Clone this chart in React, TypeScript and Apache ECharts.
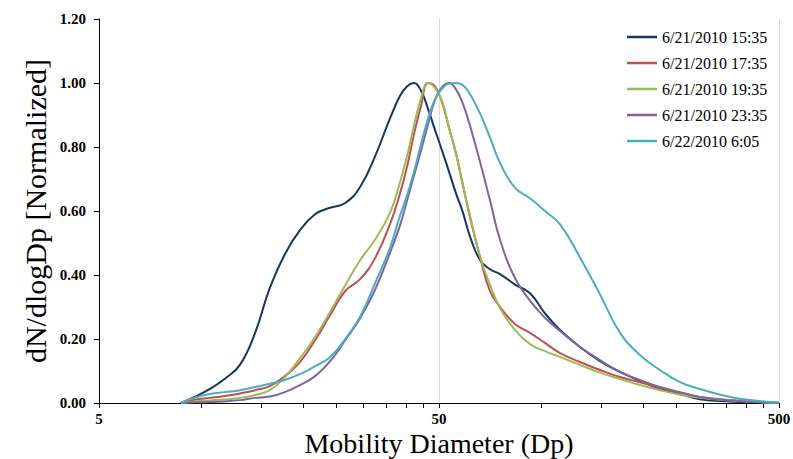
import React, { useEffect, useRef } from "react";
import * as echarts from "echarts";

// Mobility diameters (nm) shared by all size distributions
const DIAMETERS = [
  8.71, 9.58, 10.6, 11.7, 13.0, 14.4, 15.9, 17.6, 19.5, 21.6, 23.9, 26.5, 29.3, 32.4, 35.9,
  38.4, 40.3, 42.2, 44.3, 46.4, 48.6, 51.0, 53.5, 56.1, 58.8, 61.7, 66.0, 70.6, 75.6, 83.7,
  92.6, 102.5, 113.5, 129.9, 148.7, 170.3, 195.0, 223.4, 255.7, 292.8, 358.8, 439.7, 500,
];

const S_0621_1535 = [
  0, 0.02, 0.044, 0.075, 0.12, 0.22, 0.36, 0.465, 0.54, 0.59, 0.61, 0.625, 0.675, 0.77, 0.89,
  0.96, 0.99, 1.0, 0.975, 0.92, 0.855, 0.79, 0.723, 0.655, 0.595, 0.52, 0.447, 0.418, 0.403, 0.37,
  0.343, 0.28, 0.228, 0.175, 0.131, 0.097, 0.069, 0.044, 0.028, 0.012, 0.005, 0.002, 0,
];
const S_0621_1735 = [
  0, 0.01, 0.016, 0.022, 0.03, 0.04, 0.053, 0.084, 0.128, 0.196, 0.274, 0.35, 0.387, 0.452, 0.56,
  0.655, 0.74, 0.84, 0.93, 1.0, 0.99, 0.94, 0.86, 0.78, 0.68, 0.58, 0.456, 0.35, 0.3, 0.247,
  0.219, 0.188, 0.156, 0.128, 0.103, 0.081, 0.065, 0.047, 0.031, 0.019, 0.009, 0.003, 0,
];
const S_0621_1935 = [
  0, 0.005, 0.008, 0.011, 0.016, 0.025, 0.04, 0.08, 0.14, 0.206, 0.284, 0.368, 0.446, 0.51, 0.595,
  0.69, 0.773, 0.867, 0.954, 1.0, 0.985, 0.945, 0.86, 0.78, 0.68, 0.586, 0.458, 0.37, 0.296, 0.228,
  0.184, 0.162, 0.144, 0.119, 0.095, 0.075, 0.056, 0.04, 0.026, 0.016, 0.008, 0.003, 0,
];
const S_0621_2335 = [
  0, 0.002, 0.003, 0.005, 0.009, 0.016, 0.02, 0.034, 0.056, 0.084, 0.13, 0.196, 0.265, 0.353, 0.47,
  0.555, 0.634, 0.71, 0.79, 0.87, 0.946, 0.987, 1.0, 0.98, 0.935, 0.866, 0.754, 0.634, 0.51, 0.39,
  0.32, 0.266, 0.225, 0.175, 0.134, 0.097, 0.072, 0.05, 0.034, 0.019, 0.008, 0.002, 0,
];
const S_0622_0605 = [
  0, 0.017, 0.028, 0.034, 0.04, 0.05, 0.06, 0.072, 0.09, 0.115, 0.143, 0.2, 0.27, 0.374, 0.486,
  0.586, 0.65, 0.723, 0.81, 0.888, 0.948, 0.982, 0.998, 1.0, 0.993, 0.965, 0.905, 0.83, 0.75, 0.672,
  0.64, 0.6, 0.558, 0.455, 0.34, 0.22, 0.15, 0.103, 0.065, 0.044, 0.019, 0.006, 0.002,
];

const SERIES_NAMES = [
  "6/21/2010 15:35",
  "6/21/2010 17:35",
  "6/21/2010 19:35",
  "6/21/2010 23:35",
  "6/22/2010 6:05",
];
const SERIES_VALUES = [S_0621_1535, S_0621_1735, S_0621_1935, S_0621_2335, S_0622_0605];
const SERIES_COLORS = ["#17375E", "#C0504D", "#9BBB59", "#8064A2", "#4BACC6"];

// log-axis tick positions (diameters) and labelled ticks
const X_TICKS = [5, 10, 15, 20, 25, 30, 35, 40, 45, 50, 100, 150, 200, 250, 300, 350, 400, 450, 500];
const X_LABELS = [5, 50, 500];
const X_MIN = 5;

const FONT = "'Liberation Serif', 'Times New Roman', serif";

const toX = (d: number) => Math.log10(d / X_MIN);

export default function App() {
  const ref = useRef<HTMLDivElement>(null);

  useEffect(() => {
    if (!ref.current) return;
    const chart = echarts.init(ref.current, null, { renderer: "svg" });
    chart.setOption({
      animation: false,
      backgroundColor: "#ffffff",
      textStyle: { fontFamily: FONT },
      grid: {
        left: 99,
        right: 14,
        top: 19,
        bottom: 56,
        containLabel: false,
        outerBoundsMode: "none",
      },
      legend: {
        orient: "vertical",
        left: 622,
        top: 24,
        icon: "rect",
        itemWidth: 30,
        itemHeight: 2.5,
        itemGap: 10,
        textStyle: { fontFamily: FONT, fontSize: 16, lineHeight: 16, color: "#000" },
        data: SERIES_NAMES,
      },
      xAxis: [
        {
          type: "value",
          min: 0,
          max: 2,
          interval: 1,
          position: "bottom",
          name: "Mobility Diameter (Dp)",
          nameLocation: "middle",
          nameGap: 28,
          nameMoveOverlap: false,
          nameTextStyle: { fontFamily: FONT, fontSize: 28, lineHeight: 24, color: "#000" },
          axisLine: { show: true, onZero: false, lineStyle: { color: "#000", width: 1 } },
          axisTick: {
            show: true,
            customValues: X_TICKS.map(toX),
            length: 5,
            lineStyle: { color: "#000", width: 1 },
          },
          axisLabel: {
            customValues: X_LABELS.map(toX),
            formatter: (v: number) => String(Math.round(X_MIN * Math.pow(10, v))),
            fontFamily: FONT,
            fontWeight: "bold",
            fontSize: 15,
            lineHeight: 15,
            color: "#000",
            margin: 8,
          },
          splitLine: { show: false },
        },
        {
          type: "value",
          min: 0,
          max: 2,
          interval: 1,
          position: "top",
          axisLine: { show: false },
          axisTick: { show: false },
          axisLabel: { show: false },
          splitLine: { show: true, lineStyle: { color: "#D9D9D9", width: 1 } },
        },
      ],
      yAxis: {
        type: "value",
        min: 0,
        max: 1.2,
        interval: 0.2,
        name: "dN/dlogDp [Normalized]",
        nameLocation: "middle",
        nameGap: 49,
        nameMoveOverlap: false,
        nameTextStyle: { fontFamily: FONT, fontSize: 30, color: "#000" },
        axisLine: { show: true, lineStyle: { color: "#000", width: 1 } },
        axisTick: { show: true, length: 5, lineStyle: { color: "#000", width: 1 } },
        axisLabel: {
          formatter: (v: number) => v.toFixed(2),
          fontFamily: FONT,
          fontWeight: "bold",
          fontSize: 15,
          color: "#000",
          margin: 13,
        },
        splitLine: { show: false },
      },
      series: SERIES_NAMES.map((name, si) => ({
        name,
        type: "line",
        xAxisIndex: 0,
        symbol: "none",
        showSymbol: false,
        smooth: 0.45,
        lineStyle: { width: 2, color: SERIES_COLORS[si] },
        itemStyle: { color: SERIES_COLORS[si] },
        data: DIAMETERS.map((d, i) => [toX(d), SERIES_VALUES[si][i]]),
      })),
    });
    return () => chart.dispose();
  }, []);

  return (
    <div
      ref={ref}
      style={{ position: "fixed", left: 0, top: 0, width: 793, height: 459, background: "#fff" }}
    />
  );
}
